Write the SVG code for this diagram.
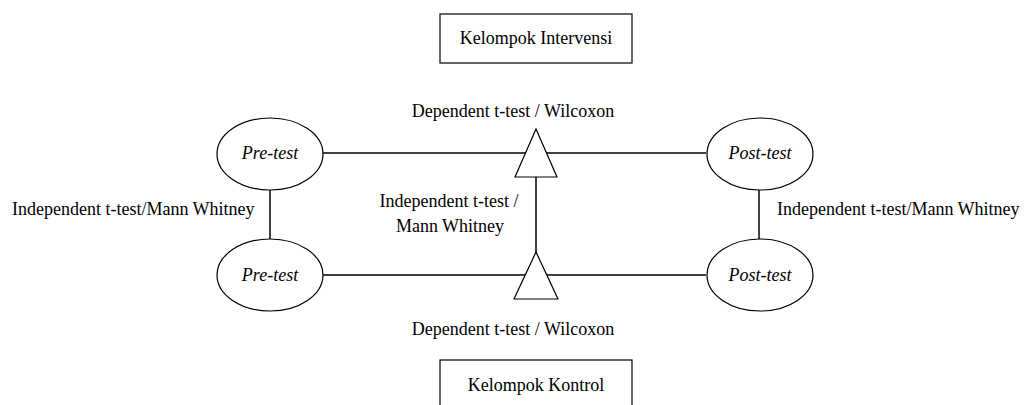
<svg xmlns="http://www.w3.org/2000/svg" width="1024" height="405" viewBox="0 0 1024 405">
<style>
text{font-family:"Liberation Serif","Times New Roman",serif;font-size:18px;fill:#000}
.it{font-style:italic}
.shape{fill:#fff;stroke:#000;stroke-width:1.2}
.ln{stroke:#000;stroke-width:1.5;fill:none}
</style>
<rect width="1024" height="405" fill="#fff"/>
<g id="connectors">
<line class="ln" x1="323" y1="153" x2="706" y2="153"/>
<line class="ln" x1="323" y1="275" x2="706" y2="275"/>
<line class="ln" x1="270" y1="190" x2="270" y2="239"/>
<line class="ln" x1="759" y1="190" x2="759" y2="239"/>
<line class="ln" x1="536" y1="177" x2="536" y2="252"/>
</g>
<g id="box-intervensi">
<rect class="shape" x="440" y="14" width="192" height="49"/>
<text x="536" y="44" text-anchor="middle">Kelompok Intervensi</text>
</g>
<g id="box-kontrol">
<rect class="shape" x="440" y="360" width="192" height="60"/>
<text x="536" y="391" text-anchor="middle">Kelompok Kontrol</text>
</g>
<g id="pre-intervensi">
<ellipse class="shape" cx="270" cy="154" rx="53" ry="36"/>
<text class="it" x="270" y="159" text-anchor="middle">Pre-test</text>
</g>
<g id="post-intervensi">
<ellipse class="shape" cx="760" cy="154" rx="53" ry="36"/>
<text class="it" x="760" y="159" text-anchor="middle">Post-test</text>
</g>
<g id="pre-kontrol">
<ellipse class="shape" cx="270" cy="275" rx="53" ry="36"/>
<text class="it" x="270" y="281" text-anchor="middle">Pre-test</text>
</g>
<g id="post-kontrol">
<ellipse class="shape" cx="760" cy="275" rx="53" ry="36"/>
<text class="it" x="760" y="281" text-anchor="middle">Post-test</text>
</g>
<g id="tri-top">
<polygon class="shape" points="536,129 515,177 557,177"/>
</g>
<g id="tri-bottom">
<polygon class="shape" points="536,252 514,299 558,299"/>
</g>
<g id="labels">
<text x="513" y="117" text-anchor="middle">Dependent t-test / Wilcoxon</text>
<text x="513" y="335" text-anchor="middle">Dependent t-test / Wilcoxon</text>
<text x="12" y="215">Independent t-test/Mann Whitney</text>
<text x="777" y="215">Independent t-test/Mann Whitney</text>
<text x="449" y="207" text-anchor="middle">Independent t-test /</text>
<text x="450" y="232" text-anchor="middle">Mann Whitney</text>
</g>
</svg>
